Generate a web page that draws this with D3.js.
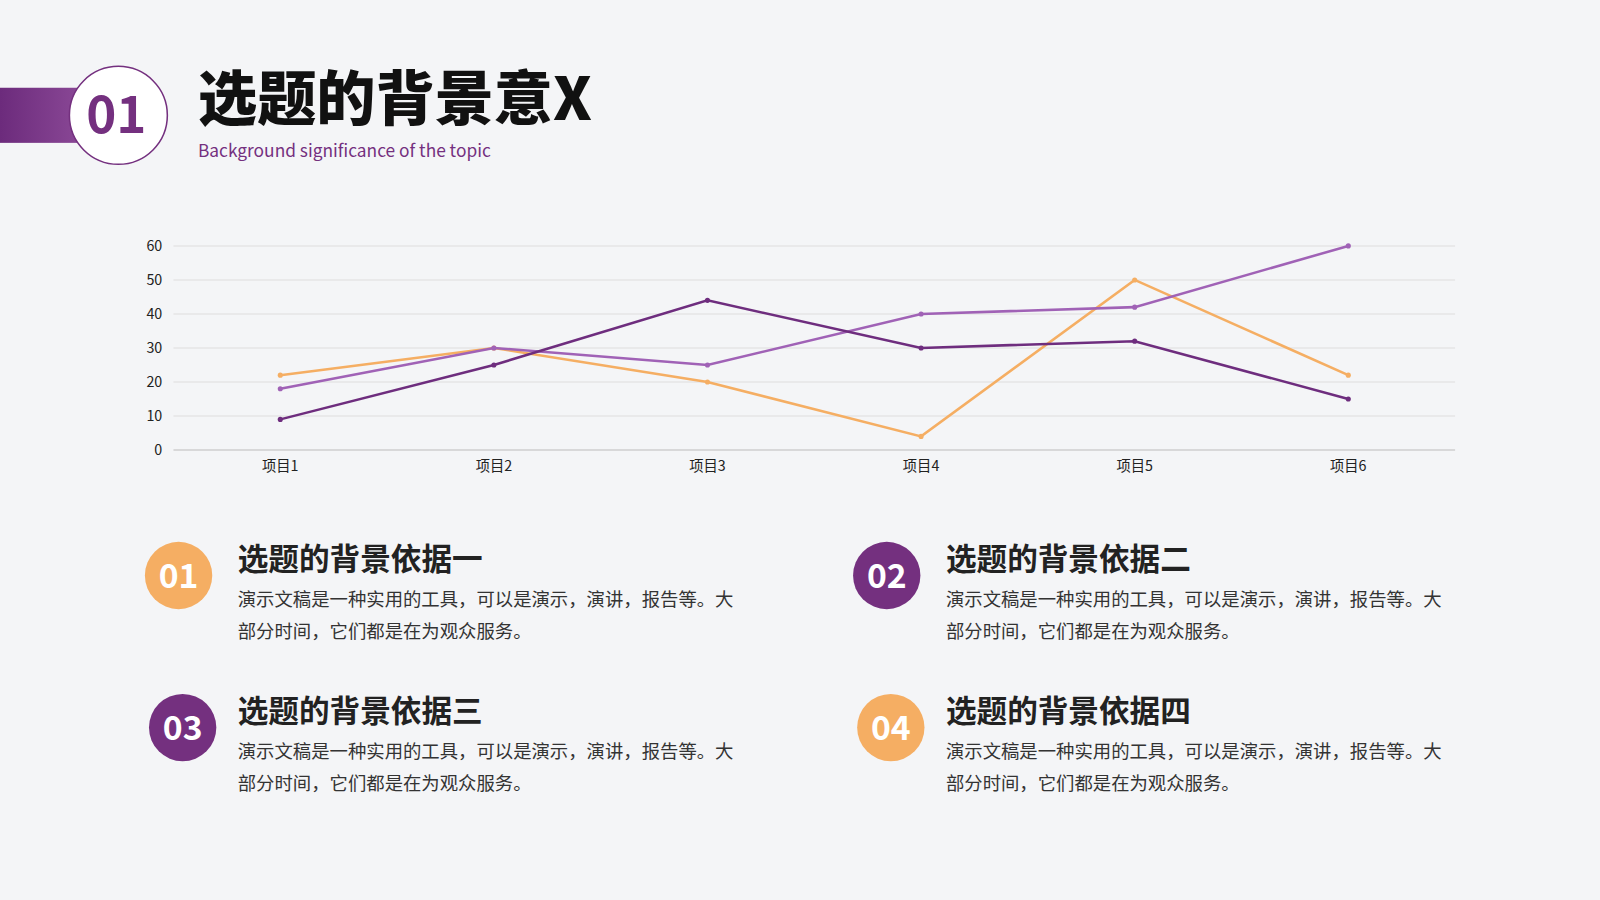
<!DOCTYPE html>
<html><head><meta charset="utf-8">
<script src="https://cdn.jsdelivr.net/npm/d3@7"></script>
<style>body{margin:0;background:#f4f5f7}svg{display:block}</style>
</head><body>
<svg id="c" width="1600" height="900" viewBox="0 0 1568 882"></svg>
<script>
const categories = ["项目1","项目2","项目3","项目4","项目5","项目6"];
const seriesOrange = [22,30,20,4,50,22];
const seriesLight = [18,30,25,40,42,60];
const seriesDark = [9,25,44,30,32,15];
const yTicks = [0,10,20,30,40,50,60];
const items = [
  {n:"01", title:"选题的背景依据一", color:"#f5ae63"},
  {n:"02", title:"选题的背景依据二", color:"#74307f"},
  {n:"03", title:"选题的背景依据三", color:"#74307f"},
  {n:"04", title:"选题的背景依据四", color:"#f5ae63"}
];
const bodyLines = ["演示文稿是一种实用的工具，可以是演示，演讲，报告等。大","部分时间，它们都是在为观众服务。"];

const font = "'Noto Sans CJK SC','Noto Sans',sans-serif";
const svg = d3.select("#c").style("font-family", font);
svg.append("rect").attr("width",1568).attr("height",882).attr("fill","#f4f5f7");

// header
const defs = svg.append("defs");
const g = defs.append("linearGradient").attr("id","hg");
g.append("stop").attr("offset","0%").attr("stop-color","#6c2b7c");
g.append("stop").attr("offset","100%").attr("stop-color","#8a4896");
svg.append("rect").attr("x",0).attr("y",86).attr("width",80).attr("height",54).attr("fill","url(#hg)");
svg.append("circle").attr("cx",116).attr("cy",113).attr("r",48).attr("fill","#fff").attr("stroke","#74307f").attr("stroke-width",1.5);
svg.append("text").attr("x",114).attr("y",130).attr("text-anchor","middle").attr("font-size",50).attr("font-weight",700).attr("fill","#74307f").text("01");
svg.append("text").attr("x",194).attr("y",118).attr("font-size",58).attr("font-weight",900).attr("fill","#111").text("选题的背景意X");
svg.append("text").attr("x",194).attr("y",154).attr("font-size",17).attr("fill","#74307f").text("Background significance of the topic");

// chart
const x = d3.scaleBand().domain(categories).range([170,1426]);
const y = d3.scaleLinear().domain([0,60]).range([441,241]);
const ch = svg.append("g");
ch.selectAll("line.grid").data(yTicks).join("line")
  .attr("x1",170).attr("x2",1426).attr("y1",d=>y(d)).attr("y2",d=>y(d))
  .attr("stroke",d=>d===0?"#bbb":"#dedede").attr("stroke-width",1);
ch.selectAll("text.yt").data(yTicks).join("text")
  .attr("x",159).attr("y",d=>y(d)+5).attr("text-anchor","end").attr("font-size",14).attr("fill","#222").text(d=>d);
ch.selectAll("text.xt").data(categories).join("text")
  .attr("x",d=>x(d)+x.bandwidth()/2).attr("y",462).attr("text-anchor","middle").attr("font-size",14).attr("fill","#222").text(d=>d);
const line = d3.line().x((d,i)=>x(categories[i])+x.bandwidth()/2).y(d=>y(d));
[[seriesOrange,"#f5ae63"],[seriesLight,"#a062b6"],[seriesDark,"#6e2d7e"]].forEach(([s,c])=>{
  ch.append("path").attr("d",line(s)).attr("fill","none").attr("stroke",c).attr("stroke-width",2.5);
  ch.selectAll(null).data(s).join("circle")
    .attr("cx",(d,i)=>x(categories[i])+x.bandwidth()/2).attr("cy",d=>y(d)).attr("r",2.5).attr("fill",c);
});

// items
const pos = [[175,564],[869,564],[179,713],[873,713]];
items.forEach((it,i)=>{
  const [cx,cy] = pos[i];
  const gg = svg.append("g");
  gg.append("circle").attr("cx",cx).attr("cy",cy).attr("r",33).attr("fill",it.color);
  gg.append("text").attr("x",cx).attr("y",cy+12).attr("text-anchor","middle").attr("font-size",33).attr("font-weight",700).attr("fill","#fff").text(it.n);
  const tx = i%2===0 ? 233 : 927;
  gg.append("text").attr("x",tx).attr("y",cy-5).attr("font-size",30).attr("font-weight",700).attr("fill","#222").text(it.title);
  bodyLines.forEach((l,j)=>gg.append("text").attr("x",tx).attr("y",cy+30+j*31).attr("font-size",18).attr("fill","#333").text(l));
});
</script>
</body></html>
